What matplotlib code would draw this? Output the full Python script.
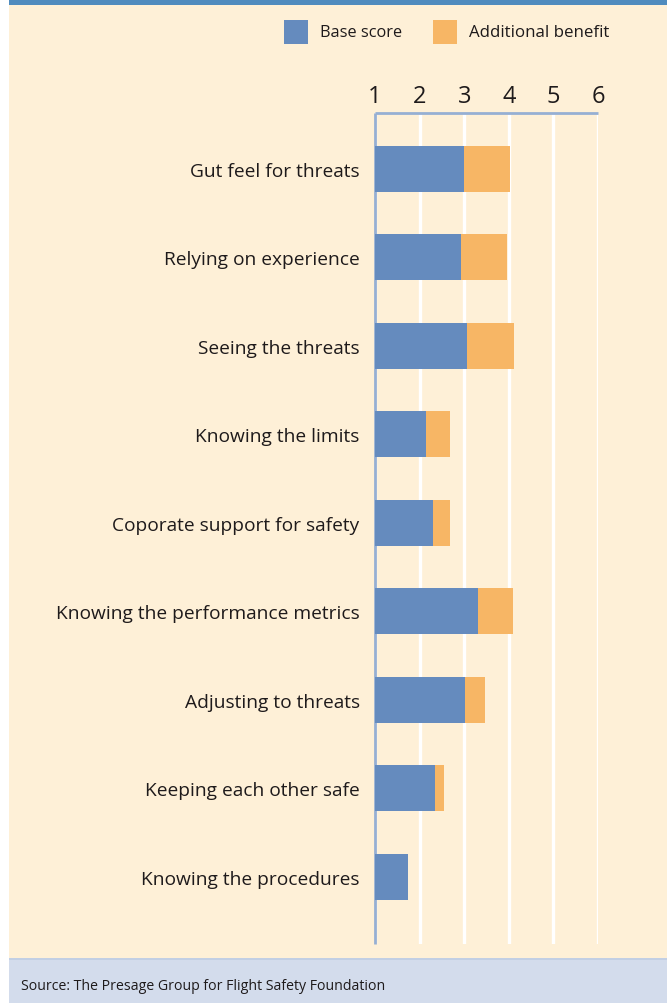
import matplotlib
matplotlib.use("Agg")
import matplotlib.pyplot as plt
from matplotlib.patches import Rectangle

categories = [
    "Gut feel for threats",
    "Relying on experience",
    "Seeing the threats",
    "Knowing the limits",
    "Coporate support for safety",
    "Knowing the performance metrics",
    "Adjusting to threats",
    "Keeping each other safe",
    "Knowing the procedures",
]
base_score = [3.00, 2.93, 3.06, 2.14, 2.30, 3.31, 3.02, 2.35, 1.74]
additional_benefit = [1.03, 1.03, 1.06, 0.54, 0.38, 0.78, 0.45, 0.20, 0.00]
x_ticks = [1, 2, 3, 4, 5, 6]
series_names = ["Base score", "Additional benefit"]
source_text = "Source: The Presage Group for Flight Safety Foundation"

BG = "#FEF0D7"
BLUE = "#658BBE"
ORANGE = "#F7B665"
SPINE = "#96AFD3"
TEXT = "#1E1A1B"
FONT = ["Open Sans", "DejaVu Sans"]

W, H = 667, 1004
fig = plt.figure(figsize=(W / 100, H / 100), dpi=100)
fig.patch.set_facecolor(BG)

def px_rect(x0, y0, x1, y1, color, z=0):
    fig.patches.append(Rectangle((x0 / W, 1 - y1 / H), (x1 - x0) / W, (y1 - y0) / H,
                                 transform=fig.transFigure, color=color, zorder=z, lw=0))

# decorative bands
px_rect(0, 0, 9, H, "white")
px_rect(9, 0, W, 6, "#4F8BBE")
px_rect(9, 960, W, H, "#D3DCEC")
px_rect(9, 959, W, 961, "#C2CFE4")

ax = fig.add_axes([375 / W, 1 - 945 / H, (598 - 375) / W, (945 - 114) / H])
ax.set_facecolor(BG)

ypos = list(range(len(categories)))
ax.barh(ypos, base_score, height=0.52, color=BLUE, zorder=3)
ax.barh(ypos, additional_benefit, left=base_score, height=0.52, color=ORANGE, zorder=3)

ax.set_xlim(x_ticks[0], x_ticks[-1])
ax.set_ylim(len(categories) - 1 + 0.76, -0.63)
ax.set_xticks(x_ticks)
ax.set_xticklabels([str(t) for t in x_ticks], fontsize=17, color=TEXT, family=FONT)
ax.xaxis.tick_top()
ax.tick_params(axis="x", length=0, pad=3.5)
ax.set_yticks(ypos)
ax.set_yticklabels(categories, fontsize=13.8, color=TEXT, family=FONT)
ax.tick_params(axis="y", length=0, pad=11)

ax.xaxis.grid(True, color="white", lw=2.4, zorder=1)
ax.set_axisbelow(True)
for s in ["right", "bottom"]:
    ax.spines[s].set_visible(False)
for s in ["left", "top"]:
    ax.spines[s].set_color(SPINE)
    ax.spines[s].set_linewidth(2)
    ax.spines[s].set_capstyle("butt")

# legend
px_rect(284, 21, 308, 45, BLUE, z=2)
fig.text(320 / W, 1 - 33 / H, series_names[0], fontsize=11.8, color=TEXT, family=FONT,
         va="center", ha="left")
px_rect(433, 21, 457, 45, ORANGE, z=2)
fig.text(469 / W, 1 - 33 / H, series_names[1], fontsize=12.2, color=TEXT, family=FONT,
         va="center", ha="left")

fig.text(21 / W, 1 - 987 / H, source_text, fontsize=10.2, color=TEXT, family=FONT,
         va="center", ha="left")

fig.savefig("out.png", dpi=100, facecolor=BG)
